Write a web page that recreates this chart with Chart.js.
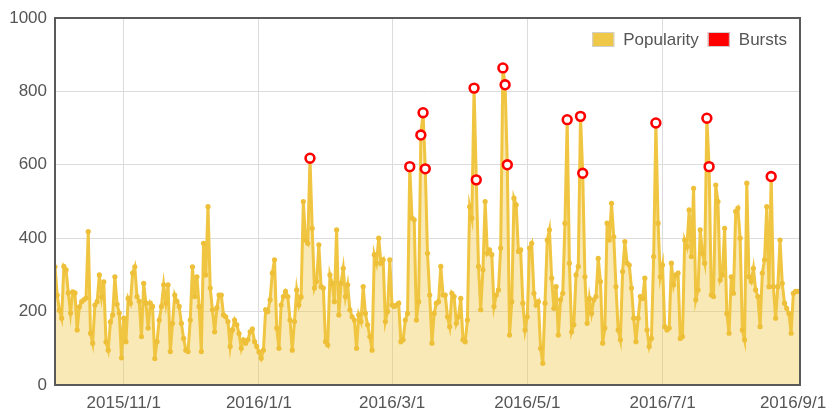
<!DOCTYPE html>
<html lang="en">
<head>
<meta charset="UTF-8">
<title>Popularity and Bursts</title>
<script src="https://cdn.jsdelivr.net/npm/chart.js"></script>
<style>
    html, body { margin: 0; padding: 0; background: #fff; }
    .chart-box { position: relative; width: 834px; height: 411px; }
</style>
</head>
<body>
<div class="chart-box"><canvas id="popChart"></canvas></div>
<script>
    // daily popularity, day 0 = 2015/10/1 ... day 336 = 2016/9/1
    const popularity = [
        322, 245, 204, 182, 323, 314, 251, 196, 254, 251, 150, 213, 227, 232, 237, 418, 141, 114, 218, 227,
        300, 240, 281, 117, 95, 172, 191, 295, 220, 196, 74, 182,
        118, 236, 223, 305, 322, 241, 228, 132, 277, 223, 155, 223, 214, 72, 118, 177, 214, 273, 223, 273,
        91, 168, 245, 228, 214, 168, 127, 95, 91, 177, 322, 241, 295, 214, 91,
        386, 300, 486, 264, 205, 145, 210, 245, 245, 191, 186, 173, 105, 150, 177, 164, 140, 100, 123, 114,
        123, 145, 152, 118, 105, 90, 73, 95, 205, 200, 232, 305, 341,
        155, 100, 218, 241, 255, 241, 177, 95, 173, 259, 218, 240, 500, 395, 386, 618, 427, 264, 282, 382,
        268, 264, 118, 109, 300, 277, 227, 423, 191, 277, 318,
        241, 273, 205, 186, 177, 100, 191, 173, 268, 195, 164, 132, 95, 355, 332, 400, 332, 341, 173, 200,
        341, 218, 214, 218, 223, 118, 123, 177, 195, 595, 455, 450, 177, 227, 681, 742, 589,
        359, 245, 114, 195, 223, 227, 323, 245, 245, 186, 159, 250, 241, 168, 186, 236, 123, 118, 177, 486,
        455, 809, 559, 323, 205, 314, 500, 359, 368, 355, 214, 245, 259, 373, 864, 818, 600,
        136, 227, 509, 491, 364, 368, 223, 150, 186, 373, 386, 250, 218, 227, 100, 59, 223, 395, 423, 291,
        209, 268, 136, 232, 250, 441, 723, 332, 145, 164, 300, 323, 732, 577,
        295, 168, 236, 195, 232, 241, 345, 282, 114, 155, 441, 395, 495, 404, 268, 150, 123, 309, 391, 332,
        327, 264, 182, 118, 182, 241, 236, 291, 150, 105, 127, 350, 714,
        441, 295, 327, 159, 150, 155, 332, 273, 300, 305, 127, 132, 395, 377, 477, 350, 536, 232, 259, 423,
        359, 332, 727, 595, 245, 241, 545, 500, 286, 300, 427, 195, 141, 295, 250, 473, 482, 400, 150, 123,
        550, 295, 282, 318, 259, 241, 159, 305, 341, 486, 268, 568, 268, 182, 268, 395, 277, 223, 209, 195,
        141, 250, 255, 255, 255
    ];

    // days flagged as bursts
    const burstDays = [115, 160, 165, 166, 167, 189, 190, 202, 203, 204, 231, 237, 238, 271, 294, 295, 323];

    // x axis ticks (day index -> date label)
    const tickDays = [31, 92, 152, 213, 274, 336];
    const tickLabels = ['2015/11/1', '2016/1/1', '2016/3/1', '2016/5/1', '2016/7/1', '2016/9/1'];

    // legend entries
    const legendNames = ['Popularity', 'Bursts'];
    const legendColors = ['#f0c848', '#ff0000'];

    const popPoints = popularity.map((v, i) => ({ x: i, y: v }));
    const burstPoints = burstDays.map(d => ({ x: d, y: popularity[d] }));

    const textColor = '#555';
    const fontFamily = '"Liberation Sans", Arial, sans-serif';
    const lastTick = tickLabels.length - 1;

    // dark frame around the plot area
    const plotFrame = {
        id: 'plotFrame',
        afterDraw(chart) {
            const a = chart.chartArea;
            const ctx = chart.ctx;
            ctx.save();
            ctx.strokeStyle = '#5a5a5a';
            ctx.lineWidth = 2;
            ctx.strokeRect(a.left, a.top, a.right - a.left, a.bottom - a.top);
            ctx.restore();
        }
    };

    // last x label sits a little left of its tick so it stays inside the canvas
    const lastXLabel = {
        id: 'lastXLabel',
        afterDraw(chart) {
            const xs = chart.scales.x;
            const ctx = chart.ctx;
            ctx.save();
            ctx.font = '17px ' + fontFamily;
            ctx.fillStyle = textColor;
            ctx.textAlign = 'center';
            ctx.textBaseline = 'middle';
            ctx.fillText(tickLabels[lastTick], xs.getPixelForValue(tickDays[lastTick]) - 7, xs.top + 18);
            ctx.restore();
        }
    };

    // legend inside the top right corner of the plot
    const cornerLegend = {
        id: 'cornerLegend',
        afterDraw(chart) {
            const a = chart.chartArea;
            const ctx = chart.ctx;
            ctx.save();
            ctx.font = '17px ' + fontFamily;
            ctx.textBaseline = 'middle';
            const midY = a.top + 21.5;
            let x = a.right - 13;
            for (let i = legendNames.length - 1; i >= 0; i--) {
                const w = ctx.measureText(legendNames[i]).width;
                x -= w;
                ctx.fillStyle = textColor;
                ctx.fillText(legendNames[i], x, midY + 1);
                x -= 9 + 22;
                ctx.fillStyle = legendColors[i];
                ctx.fillRect(x, midY - 7.5, 22, 15);
                ctx.strokeStyle = '#d0d0d0';
                ctx.lineWidth = 1;
                ctx.strokeRect(x + 0.5, midY - 7.5 + 0.5, 21, 14);
                x -= 9;
            }
            ctx.restore();
        }
    };

    new Chart(document.getElementById('popChart'), {
        type: 'line',
        data: {
            datasets: [{
                label: 'Popularity',
                data: popPoints,
                order: 1,
                borderColor: '#f0c541',
                borderWidth: 3,
                backgroundColor: 'rgba(240, 200, 72, 0.4)',
                fill: 'origin',
                tension: 0,
                pointRadius: 2.6,
                pointBorderWidth: 0,
                pointBackgroundColor: '#eec03a'
            }, {
                label: 'Bursts',
                data: burstPoints,
                order: 0,
                showLine: false,
                pointRadius: 4.4,
                pointBorderWidth: 2.6,
                pointBorderColor: '#ff0000',
                pointBackgroundColor: '#ffffff'
            }]
        },
        options: {
            responsive: true,
            maintainAspectRatio: false,
            animation: false,
            layout: {
                padding: { top: 18, right: 34, left: 0, bottom: 0 }
            },
            scales: {
                x: {
                    type: 'linear',
                    min: 0,
                    max: 336,
                    afterBuildTicks: axis => {
                        axis.ticks = tickDays.map(d => ({ value: d }));
                    },
                    afterFit: axis => {
                        axis.height = 26;
                        axis.paddingLeft = 0;
                        axis.paddingRight = 0;
                    },
                    grid: { color: '#dcdcdc', drawTicks: false },
                    border: { display: false },
                    ticks: {
                        autoSkip: false,
                        maxRotation: 0,
                        padding: 8,
                        color: textColor,
                        font: { family: fontFamily, size: 17 },
                        // the last one is drawn by lastXLabel
                        callback: (value, index) => index === lastTick ? '' : tickLabels[index]
                    }
                },
                y: {
                    min: 0,
                    max: 1000,
                    afterFit: axis => {
                        axis.width = 55;
                        axis.paddingTop = 0;
                        axis.paddingBottom = 0;
                    },
                    grid: { color: '#dcdcdc', drawTicks: false },
                    border: { display: false },
                    ticks: {
                        stepSize: 200,
                        padding: 8,
                        color: textColor,
                        font: { family: fontFamily, size: 17 },
                        callback: value => String(value)
                    }
                }
            },
            plugins: {
                tooltip: { enabled: false },
                legend: { display: false }
            }
        },
        plugins: [plotFrame, lastXLabel, cornerLegend]
    });
</script>
</body>
</html>
